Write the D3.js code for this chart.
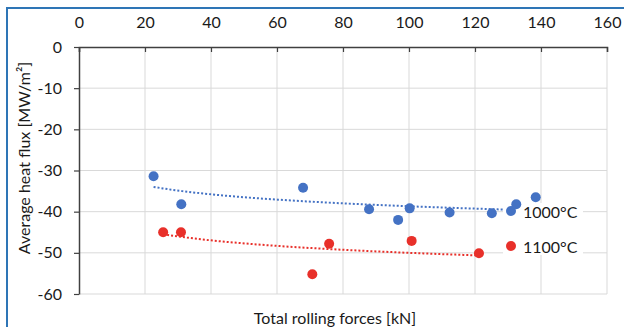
<!DOCTYPE html>
<html>
<head>
    <meta charset="utf-8">
    <script src="https://d3js.org/d3.v7.min.js"></script>
    <style>
        body { margin: 0; background: #fff; }
        text { font-family: Lato, "Open Sans", sans-serif; fill: #1a1a1a; }
    </style>
</head>
<body>
<script>
    // values
    let xTicks = [0, 20, 40, 60, 80, 100, 120, 140, 160];
    let yTicks = [0, -10, -20, -30, -40, -50, -60];

    let force1000 = [22.6, 31.0, 67.9, 87.9, 96.7, 100.2, 112.3, 125.1, 132.5, 138.4];
    let flux1000  = [-31.4, -38.2, -34.2, -39.4, -42.0, -39.2, -40.2, -40.4, -38.2, -36.5];

    let force1100 = [25.5, 30.9, 70.7, 75.8, 100.8, 121.2];
    let flux1100  = [-45.0, -45.0, -55.2, -47.8, -47.1, -50.1];

    let seriesNames = ["1000°C", "1100°C"];
    let seriesColors = ["#4472C4", "#E8302A"];

    let width = 624, height = 327;

    let svg = d3.select("body").append("svg")
        .attr("width", width)
        .attr("height", height);

    // outer frame (only left and top visible in the crop)
    svg.append("rect")
        .attr("x", 7).attr("y", 8)
        .attr("width", 640).attr("height", 340)
        .attr("fill", "white")
        .attr("stroke", "#2E75B6")
        .attr("stroke-width", 2);

    let x = d3.scaleLinear().domain([0, 160]).range([79, 607]);
    let y = d3.scaleLinear().domain([-60, 0]).range([294, 47]);

    // gridlines
    svg.append("g").selectAll("line")
        .data(xTicks.slice(1))
        .join("line")
            .attr("x1", d => x(d)).attr("x2", d => x(d))
            .attr("y1", y(0)).attr("y2", y(-60))
            .attr("stroke", "#d9d9d9");

    svg.append("g").selectAll("line")
        .data(yTicks.slice(1))
        .join("line")
            .attr("x1", x(0)).attr("x2", x(160))
            .attr("y1", d => y(d)).attr("y2", d => y(d))
            .attr("stroke", "#d9d9d9");

    // axes
    let xAxis = d3.axisTop(x)
        .tickValues(xTicks)
        .tickFormat(d => String(d))
        .tickSizeInner(-5)
        .tickSizeOuter(-5)
        .tickPadding(19);

    let yAxis = d3.axisLeft(y)
        .tickValues(yTicks)
        .tickFormat(d => String(d))
        .tickSizeInner(5)
        .tickSizeOuter(0)
        .tickPadding(12);

    let gx = svg.append("g")
        .attr("transform", "translate(0," + y(0) + ")")
        .call(xAxis);

    let gy = svg.append("g")
        .attr("transform", "translate(" + x(0) + ",0)")
        .call(yAxis);

    [gx, gy].forEach(g => {
        g.select(".domain").attr("stroke", "#404040").attr("stroke-width", 1.5);
        g.selectAll(".tick line").attr("stroke", "#404040").attr("stroke-width", 1.2);
        g.selectAll(".tick text")
            .style("font-family", "Lato, sans-serif")
            .style("font-size", "16px")
            .attr("fill", "#1a1a1a");
    });
    gy.select(".tick text").filter(d => d === 0);

    // logarithmic trendlines (least squares on ln x), as Excel draws them
    function logFit(xs, ys) {
        let lx = xs.map(Math.log);
        let mx = d3.mean(lx), my = d3.mean(ys);
        let b = d3.sum(lx, (v, i) => (v - mx) * (ys[i] - my)) / d3.sum(lx, v => (v - mx) * (v - mx));
        let a = my - b * mx;
        let ext = d3.extent(xs);
        let pts = d3.range(0, 41).map(i => {
            let xv = ext[0] + (ext[1] - ext[0]) * i / 40;
            return [xv, a + b * Math.log(xv)];
        });
        return pts;
    }

    let line = d3.line()
        .x(d => x(d[0]))
        .y(d => y(d[1]));

    let series = [
        {xs: force1000, ys: flux1000},
        {xs: force1100, ys: flux1100}
    ];

    series.forEach((s, k) => {
        svg.append("path")
            .attr("d", line(logFit(s.xs, s.ys)))
            .attr("fill", "none")
            .attr("stroke", seriesColors[k])
            .attr("stroke-width", 2)
            .attr("stroke-dasharray", "2,2");
    });

    // legend sits over the plot with a white background
    let legX = 503, legY = 203;
    svg.append("rect")
        .attr("x", legX).attr("y", legY)
        .attr("width", 80).attr("height", 52)
        .attr("fill", "white");

    let leg = svg.append("g").selectAll("g")
        .data(seriesNames)
        .join("g")
            .attr("transform", (d, i) => "translate(" + 511 + "," + (211 + i * 35) + ")");
    leg.append("circle")
        .attr("r", 5)
        .attr("fill", (d, i) => seriesColors[i]);
    leg.append("text")
        .attr("x", 12)
        .attr("y", 6.5)
        .style("font-size", "16px")
        .text(d => d);

    // points
    series.forEach((s, k) => {
        svg.append("g").selectAll("circle")
            .data(s.xs.map((v, i) => [v, s.ys[i]]))
            .join("circle")
                .attr("cx", d => x(d[0]))
                .attr("cy", d => y(d[1]))
                .attr("r", 5)
                .attr("fill", seriesColors[k]);
    });

    // axis titles
    svg.append("text")
        .attr("x", 335)
        .attr("y", 324)
        .style("text-anchor", "middle")
        .style("font-size", "16px")
        .text("Total rolling forces [kN]");

    svg.append("text")
        .attr("transform", "translate(30,158) rotate(-90)")
        .style("text-anchor", "middle")
        .style("font-size", "16px")
        .text("Average heat flux [MW/m²]");
</script>
</body>
</html>
